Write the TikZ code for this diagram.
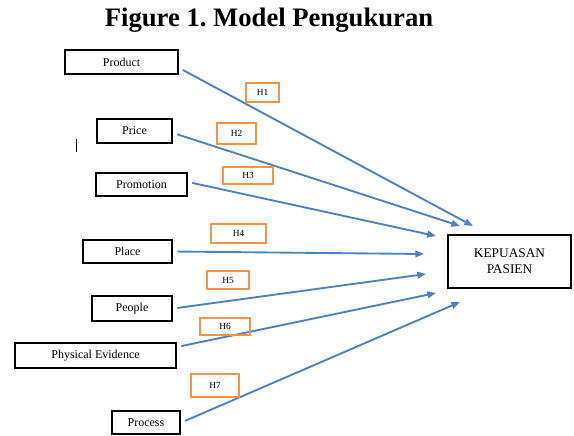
\documentclass[tikz,border=0pt]{standalone}
\usepackage{fontspec}
\setmainfont{Liberation Serif}
\usetikzlibrary{arrows.meta}

\definecolor{lineblue}{RGB}{79,129,189}
\definecolor{hyporange}{RGB}{240,150,70}

\begin{document}
\frenchspacing
\begin{tikzpicture}[x=0.75pt,y=-0.75pt,
    varbox/.style={draw=black, line width=2pt, inner sep=0pt, font=\fontsize{9}{10}\selectfont},
    hypbox/.style={draw=hyporange, line width=1.6pt, inner sep=0pt, font=\fontsize{7}{8}\selectfont},
    path/.style={draw=lineblue, line width=1.4pt, shorten <=3pt, -{Triangle[length=6.5pt,width=5pt]}}]
    \useasboundingbox (0,0) rectangle (574,435);

    \node[font=\fontsize{20}{22}\selectfont\bfseries] (title) at (269,20) {Figure 1. Model Pengukuran};

    % exogenous variables
    \node[varbox, minimum width=84.75pt, minimum height=18pt] (product) at (121.5,62) {Product};
    \node[varbox, minimum width=56.25pt, minimum height=18pt] (price) at (134.5,131) {Price};
    \node[varbox, minimum width=68.25pt, minimum height=17.25pt] (promotion) at (141.5,184.5) {Promotion};
    \node[varbox, minimum width=66.75pt, minimum height=17.25pt] (place) at (127.5,251.5) {Place};
    \node[varbox, minimum width=60pt, minimum height=18.75pt] (people) at (132,308.5) {People};
    \node[varbox, minimum width=120.75pt, minimum height=18.75pt] (physev) at (95.5,355.5) {Physical Evidence};
    \node[varbox, minimum width=51pt, minimum height=17.25pt] (process) at (146,422.5) {Process};

    % endogenous variable
    \node[varbox, align=center, minimum width=92.25pt, minimum height=39.75pt,
          font=\fontsize{10}{12}\selectfont] (kepuasan) at (509.5,261.5) {KEPUASAN\\PASIEN};

    \draw[line width=0.6pt] (76,139) -- (76,152);

    % arrow ends
    \coordinate (e1) at (473,226);
    \coordinate (e2) at (460,226);
    \coordinate (e3) at (436,236);
    \coordinate (e4) at (424,254);
    \coordinate (e5) at (426,274);
    \coordinate (e6) at (436,293);
    \coordinate (e7) at (460,302);

    \draw[path] (product.-6) -- (e1);
    \draw[path] (price.-3) -- (e2);
    \draw[path] (promotion.3) -- (e3);
    \draw[path] (place.east) -- (e4);
    \draw[path] (people.east) -- (e5);
    \draw[path] (physev.6) -- (e6);
    \draw[path] (process.east) -- (e7);

    % hypotheses
    \node[hypbox, minimum width=24.75pt, minimum height=14.25pt] (h1) at (262.5,92.5) {H1};
    \node[hypbox, minimum width=29.25pt, minimum height=15.75pt] (h2) at (236.5,133.5) {H2};
    \node[hypbox, minimum width=37.5pt, minimum height=12.75pt] (h3) at (248,175.5) {H3};
    \node[hypbox, minimum width=41.25pt, minimum height=14.25pt] (h4) at (238.5,233.5) {H4};
    \node[hypbox, minimum width=31.5pt, minimum height=13.5pt] (h5) at (228,280) {H5};
    \node[hypbox, minimum width=37.5pt, minimum height=12.75pt] (h6) at (225,326.5) {H6};
    \node[hypbox, minimum width=36pt, minimum height=17.25pt] (h7) at (215,385.5) {H7};
\end{tikzpicture}
\end{document}
